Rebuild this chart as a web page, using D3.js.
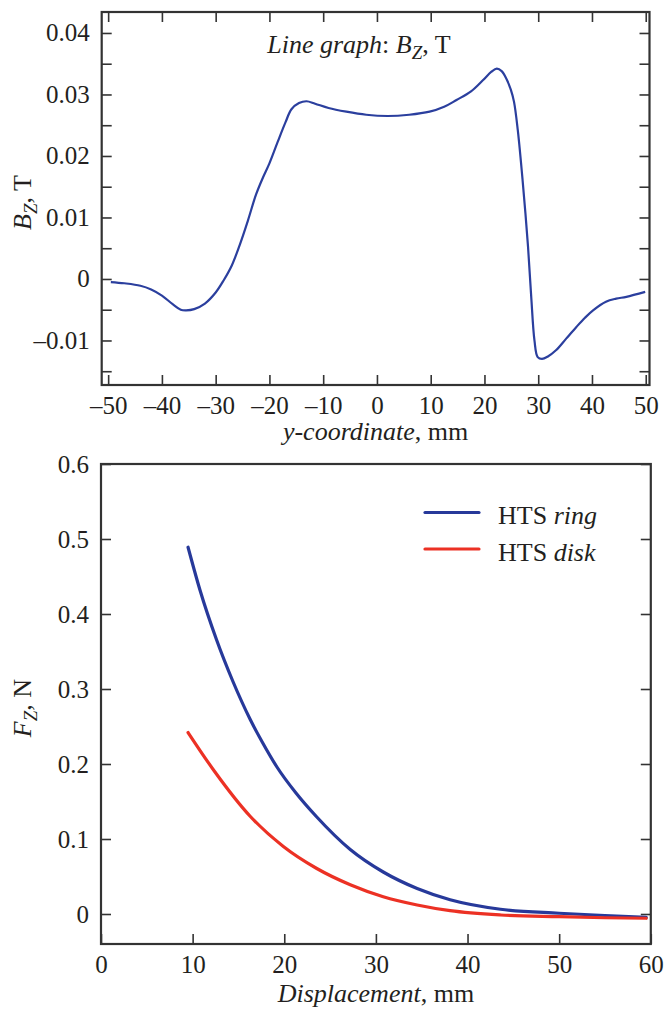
<!DOCTYPE html>
<html>
<head>
<meta charset="utf-8">
<script src="https://cdn.jsdelivr.net/npm/d3@7/dist/d3.min.js"></script>
<style>
  html, body { margin: 0; padding: 0; background: #fff; }
  svg { display: block; }
  text { font-family: "Liberation Serif", "Times New Roman", serif; fill: #231f20; }
</style>
</head>
<body>
<svg id="chart" width="664" height="1010"></svg>
<script>
// ---------- Top panel data: B_Z vs y-coordinate ----------
const bzY = [-49.5, -47, -44, -42, -40, -38, -36.5, -35.5, -34, -32, -30, -28.5, -27, -25.5, -24, -22.5, -21.2, -20, -18.5, -17, -15.9, -14.5, -13.1, -11.5, -9, -5.7, -2, 2, 6, 9.8, 12.5, 14.8, 17.5, 19.7, 21.3, 22.3, 23.2, 24.1, 24.9, 25.5, 26.2, 27.1, 28.1, 28.7, 29.3, 29.9, 30.7, 31.8, 33.3, 35.2, 37.1, 38.7, 40.2, 42.6, 44.5, 46.4, 49.9];
const bzVal = [-0.0005, -0.0007, -0.0011, -0.0017, -0.0027, -0.0041, -0.0050, -0.0051, -0.0049, -0.0040, -0.0022, -0.0002, 0.0022, 0.0056, 0.0095, 0.0137, 0.0165, 0.0188, 0.0222, 0.0255, 0.0276, 0.0286, 0.0289, 0.0285, 0.0278, 0.0272, 0.0267, 0.0265, 0.0267, 0.0272, 0.0280, 0.0291, 0.0305, 0.0323, 0.0337, 0.0342, 0.0338, 0.0325, 0.0308, 0.0288, 0.0242, 0.0160, 0.0053, -0.0029, -0.0100, -0.0127, -0.0130, -0.0126, -0.0116, -0.0097, -0.0078, -0.0063, -0.0051, -0.0037, -0.0032, -0.0029, -0.0021];

const topXTicks = [-50, -40, -30, -20, -10, 0, 10, 20, 30, 40, 50];
const topXLabels = ["\u201350", "\u201340", "\u201330", "\u201320", "\u201310", "0", "10", "20", "30", "40", "50"];
const topYTicks = [-0.015, -0.01, -0.005, 0, 0.005, 0.01, 0.015, 0.02, 0.025, 0.03, 0.035, 0.04];
const topYLabels = ["", "\u20130.01", "", "0", "", "0.01", "", "0.02", "", "0.03", "", "0.04"];

// ---------- Bottom panel data: F_Z vs displacement ----------
const ringX = [9.5, 10.8, 12.6, 14.4, 16.3, 17.7, 19.2, 21.3, 23.5, 27.2, 30.8, 34.5, 38.1, 43.6, 50, 55, 59.5];
const ringF = [0.489, 0.432, 0.366, 0.310, 0.259, 0.227, 0.196, 0.161, 0.130, 0.086, 0.056, 0.034, 0.019, 0.0063, 0.001, -0.002, -0.0045];
const diskX = [9.5, 12.4, 16.3, 19.9, 23.5, 27.2, 30.8, 34.5, 38.1, 43.6, 50, 55, 59.5];
const diskF = [0.242, 0.190, 0.130, 0.090, 0.061, 0.039, 0.023, 0.012, 0.0044, -0.0013, -0.0036, -0.005, -0.0057];

const botXTicks = [0, 10, 20, 30, 40, 50, 60];
const botXLabels = ["0", "10", "20", "30", "40", "50", "60"];
const botYTicks = [0, 0.1, 0.2, 0.3, 0.4, 0.5, 0.6];
const botYLabels = ["0", "0.1", "0.2", "0.3", "0.4", "0.5", "0.6"];

const seriesNames = ["ring", "disk"];
const seriesColors = ["#27399a", "#ec3124"];

// ---------- Drawing ----------
const svg = d3.select("#chart");
const FS = 25;
const FONT = "'Liberation Serif', 'Times New Roman', serif";
const axisColor = "#333";

function styleAxis(g) {
  g.attr("font-family", null).attr("font-size", null);
  g.select(".domain").remove();
  g.selectAll(".tick line").attr("stroke", axisColor).attr("stroke-width", 1.6);
  g.selectAll(".tick text").attr("fill", "#231f20")
    .style("font-family", FONT).style("font-size", FS + "px");
}

function frame(x0, y0, x1, y1) {
  svg.append("rect").attr("x", x0).attr("y", y0).attr("width", x1 - x0).attr("height", y1 - y0)
    .attr("fill", "none").attr("stroke", axisColor).attr("stroke-width", 2.2);
}

// ===== Top panel =====
const tL = 101.7, tR = 649.5, tT = 12, tB = 385;
const xT = d3.scaleLinear().domain([-51.2, 50.7]).range([tL, tR]);
const yT = d3.scaleLinear().domain([-0.01724, 0.04341]).range([tB, tT]);

svg.append("g").attr("transform", `translate(0,${tB})`)
  .call(d3.axisBottom(xT).tickValues(topXTicks).tickSize(-10).tickPadding(11)
    .tickFormat((d, i) => topXLabels[i]))
  .call(styleAxis);
svg.append("g").attr("transform", `translate(0,${tT})`)
  .call(d3.axisTop(xT).tickValues(topXTicks).tickSize(-10).tickFormat(""))
  .call(styleAxis);
svg.append("g").attr("transform", `translate(${tL},0)`)
  .call(d3.axisLeft(yT).tickValues(topYTicks).tickSize(-10).tickPadding(12)
    .tickFormat((d, i) => topYLabels[i]))
  .call(styleAxis);
svg.append("g").attr("transform", `translate(${tR},0)`)
  .call(d3.axisRight(yT).tickValues(topYTicks).tickSize(-10).tickFormat(""))
  .call(styleAxis);

frame(tL, tT, tR, tB);

const topData = bzY.map((v, i) => [v, bzVal[i]]);
svg.append("path").datum(topData)
  .attr("fill", "none").attr("stroke", "#2b3f9e").attr("stroke-width", 2.2).attr("stroke-linejoin", "round")
  .attr("d", d3.line().x(d => xT(d[0])).y(d => yT(d[1])).curve(d3.curveCatmullRom.alpha(0.5)));

// annotation
const ann = svg.append("text").attr("x", 359).attr("y", 53).attr("text-anchor", "middle").attr("font-size", 26);
ann.append("tspan").attr("font-style", "italic").text("Line graph");
ann.append("tspan").text(": ");
ann.append("tspan").attr("font-style", "italic").text("B");
ann.append("tspan").attr("font-style", "italic").attr("font-size", 19).attr("dy", 6).text("Z");
ann.append("tspan").attr("dy", -6).text(", T");

// axis titles
const xt1 = svg.append("text").attr("x", (tL + tR) / 2).attr("y", 440).attr("text-anchor", "middle").attr("font-size", 26);
xt1.append("tspan").attr("font-style", "italic").text("y-coordinate");
xt1.append("tspan").text(", mm");

const yt1 = svg.append("text").attr("transform", `translate(31,${(tT + tB) / 2 + 4}) rotate(-90)`)
  .attr("text-anchor", "middle").attr("font-size", 26);
yt1.append("tspan").attr("font-style", "italic").text("B");
yt1.append("tspan").attr("font-style", "italic").attr("font-size", 19).attr("dy", 6).text("Z");
yt1.append("tspan").attr("dy", -6).text(", T");

// ===== Bottom panel =====
const bL = 101, bR = 650.8, bT = 464, bB = 944;
const xB = d3.scaleLinear().domain([0, 60]).range([bL, bR]);
const yB = d3.scaleLinear().domain([-0.04, 0.6]).range([bB, bT]);

svg.append("g").attr("transform", `translate(0,${bB})`)
  .call(d3.axisBottom(xB).tickValues(botXTicks).tickSize(-10).tickPadding(11)
    .tickFormat((d, i) => botXLabels[i]))
  .call(styleAxis);
svg.append("g").attr("transform", `translate(${bL},0)`)
  .call(d3.axisLeft(yB).tickValues(botYTicks).tickSize(-10).tickPadding(12)
    .tickFormat((d, i) => botYLabels[i]))
  .call(styleAxis);
svg.append("g").attr("transform", `translate(${bR},0)`)
  .call(d3.axisRight(yB).tickValues(botYTicks).tickSize(-10).tickFormat(""))
  .call(styleAxis);

frame(bL, bT, bR, bB);

const lineB = d3.line().x(d => xB(d[0])).y(d => yB(d[1])).curve(d3.curveMonotoneX);
const series = [
  ringX.map((v, i) => [v, ringF[i]]),
  diskX.map((v, i) => [v, diskF[i]])
];
series.forEach((s, i) => {
  svg.append("path").datum(s).attr("fill", "none").attr("stroke", seriesColors[i])
    .attr("stroke-width", 3.2).attr("stroke-linecap", "round").attr("d", lineB);
});

// legend
const legY = [512.5, 549];
seriesNames.forEach((n, i) => {
  svg.append("line").attr("x1", 425).attr("x2", 479).attr("y1", legY[i]).attr("y2", legY[i])
    .attr("stroke", seriesColors[i]).attr("stroke-width", 3.2).attr("stroke-linecap", "round");
  const t = svg.append("text").attr("x", 498).attr("y", legY[i] + 11.5).attr("font-size", 26);
  t.append("tspan").text("HTS ");
  t.append("tspan").attr("font-style", "italic").text(n);
});

// axis titles
const xt2 = svg.append("text").attr("x", (bL + bR) / 2).attr("y", 1002).attr("text-anchor", "middle").attr("font-size", 26);
xt2.append("tspan").attr("font-style", "italic").text("Displacement");
xt2.append("tspan").text(", mm");

const yt2 = svg.append("text").attr("transform", `translate(31,${(bT + bB) / 2 + 4}) rotate(-90)`)
  .attr("text-anchor", "middle").attr("font-size", 26);
yt2.append("tspan").attr("font-style", "italic").text("F");
yt2.append("tspan").attr("font-style", "italic").attr("font-size", 19).attr("dy", 6).text("Z");
yt2.append("tspan").attr("dy", -6).text(", N");
</script>
</body>
</html>
